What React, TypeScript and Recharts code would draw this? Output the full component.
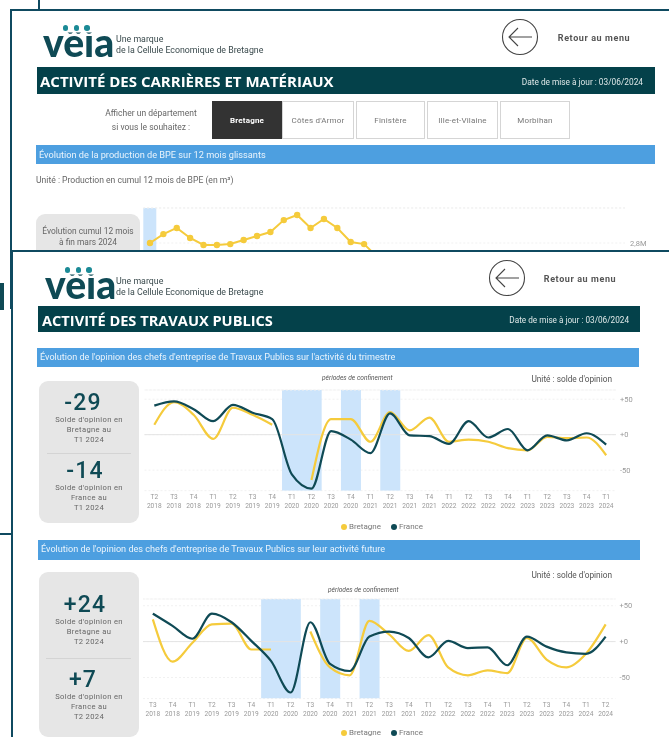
import React from 'react';
import { ComposedChart, Line, Bar, XAxis, YAxis, CartesianGrid, ReferenceLine, Legend } from 'recharts';

// ---- data -----------------------------------------------------------------
const activiteCategories = ['T2 2018','T3 2018','T4 2018','T1 2019','T2 2019','T3 2019','T4 2019','T1 2020','T2 2020','T3 2020','T4 2020','T1 2021','T2 2021','T3 2021','T4 2021','T1 2022','T2 2022','T3 2022','T4 2022','T1 2023','T2 2023','T3 2023','T4 2023','T1 2024'];
const activiteBretagne = [14,46,28,-6,38,28,14,null,-64,22,22,-10,32,6,24,-10,-7,-10,-19,-22,-3,-5,-4,-29];
const activiteFrance = [41,47,36,19,42,31,22,-56,-76,5,-7,-26,30,-1,-2,-13,19,-4,8,-22,-1,-8,2,-14];
const activiteConfinement = ['T1 2020','T2 2020','T4 2020','T2 2021'];

const futureCategories = ['T3 2018','T4 2018','T1 2019','T2 2019','T3 2019','T4 2019','T1 2020','T2 2020','T3 2020','T4 2020','T1 2021','T2 2021','T3 2021','T4 2021','T1 2022','T2 2022','T3 2022','T4 2022','T1 2023','T2 2023','T3 2023','T4 2023','T1 2024','T2 2024'];
const futureBretagne = [31,-28,-2,24,25,-11,-11,null,14,-36,-47,29,10,-13,9,-36,-47,-40,-44,5,-25,-36,-17,24];
const futureFrance = [39,22,4,39,27,1,-27,-71,27,-31,-41,7,14,5,-22,1,-9,-8,-33,7,-7,-15,-17,7];
const futureConfinement = ['T1 2020','T2 2020','T4 2020','T2 2021'];

const bpeMonths = ['avr. 21','mai 21','juin 21','juil. 21','août 21','sept. 21','oct. 21','nov. 21','déc. 21','janv. 22','févr. 22','mars 22','avr. 22','mai 22','juin 22','juil. 22','août 22','sept. 22','oct. 22','nov. 22','déc. 22','janv. 23','févr. 23','mars 23','avr. 23','mai 23','juin 23','juil. 23','août 23','sept. 23','oct. 23','nov. 23','déc. 23','janv. 24','févr. 24','mars 24'];
const bpeValues = [2.8,2.851,2.886,2.829,2.789,2.789,2.794,2.817,2.84,2.863,2.931,2.96,2.886,2.937,2.886,2.806,2.794,2.72];
const bpeConfinement = ['avr. 21'];

const departements = ['Bretagne', "Côtes d'Armor", 'Finistère', 'Ille-et-Vilaine', 'Morbihan'];

// ---- style ----------------------------------------------------------------
const TEAL = '#0f4a55';
const FRAME = '#0f4a60';
const DARK = '#04414a';
const YELLOW = '#f5cb3c';
const BLUE = '#4d9fe0';
const BAND = '#cce4fb';
const FONT = 'Roboto, sans-serif';

const T = ({ x, y, anchor = 'start', size = 8, color = '#666', weight = 400, italic = false, font = FONT, spacing = 0, children }: any) => (
  <div style={{
    position: 'absolute', left: x, top: y, whiteSpace: 'nowrap', fontFamily: font, fontSize: size, color, fontWeight: weight,
    fontStyle: italic ? 'italic' : 'normal', letterSpacing: spacing, lineHeight: 1,
    transform: `translate(${anchor === 'middle' ? '-50%' : anchor === 'end' ? '-100%' : '0'}, -50%)`,
  }}>{children}</div>
);

const Box = ({ x, y, w, h, bg, r = 0, border, z }: any) => (
  <div style={{ position: 'absolute', left: x, top: y, width: w, height: h, background: bg, borderRadius: r, border, boxSizing: 'border-box', zIndex: z }} />
);

const Logo = ({ x, y, sub }: any) => (
  <>
    <div style={{ position: 'absolute', left: x, top: y - 19.5, fontFamily: 'Lato, sans-serif', fontWeight: 900, fontSize: 39, lineHeight: 1, color: TEAL, clipPath: 'inset(10px 0 0 0)' }}>vëia</div>
    {[x + 22.5, x + 33.5, x + 44].map((cx) => (
      <div key={cx} style={{ position: 'absolute', left: cx - 2.75, top: y - 16.75, width: 5.5, height: 5.5, borderRadius: '50%', background: '#1b8a96' }} />
    ))}
    <T x={sub} y={y - 3} size={8.8} color="#3a4a4d">Une marque</T>
    <T x={sub} y={y + 8} size={8.8} color="#3a4a4d">de la Cellule Economique de Bretagne</T>
  </>
);

const BackArrow = ({ cx, cy }: any) => (
  <svg style={{ position: 'absolute', left: cx - 19, top: cy - 19 }} width={38} height={38}>
    <circle cx={19} cy={19} r={17.5} fill="none" stroke="#444" strokeWidth={1.1} />
    <path d="M 31 19 H 8 M 17 10 L 8 19 L 17 28" fill="none" stroke="#444" strokeWidth={1.1} />
  </svg>
);

const XTick = ({ x, y, payload }: any) => {
  const [a, b] = String(payload.value).split(' ');
  return (
    <text x={x} y={y} textAnchor="middle" fontSize={6.6} fontFamily={FONT} fill="#999">
      <tspan x={x} dy={0}>{a}</tspan>
      <tspan x={x} dy={9.5}>{b}</tspan>
    </text>
  );
};

const fmtOpinion = (v: number) => (v > 0 ? `+${v}` : v === 0 ? '+0' : `${v}`);

const OpinionChart = ({ categories, bretagne, france, confinement, lo, hi, left, top, plotLeft, plotRight, plotHeight, legendLeft, legendTop }: any) => {
  const data = categories.map((c: string, i: number) => ({
    name: c,
    Bretagne: bretagne[i],
    France: france[i],
    band: confinement.includes(c) ? [lo, hi] : null,
  }));
  const width = 520;
  const height = 160;
  return (
    <div style={{ position: 'absolute', left, top }}>
      <ComposedChart width={width} height={height} data={data} barCategoryGap={0}
        margin={{ top: 5, left: plotLeft - left, right: 0, bottom: height - 5 - plotHeight - 30 }}>
        <CartesianGrid vertical={false} stroke="#f1f1f1" strokeDasharray="2 2" />
        <XAxis dataKey="name" interval={0} axisLine={false} tickLine={false} tickSize={0} tickMargin={8} height={30} tick={<XTick />} />
        <YAxis orientation="right" domain={[lo, hi]} ticks={[-50, 0, 50]} tickFormatter={fmtOpinion} axisLine={false} tickLine={false}
          tickSize={0} tickMargin={4} width={width - (plotRight - left)} tick={{ fontSize: 7.5, fill: '#999', fontFamily: FONT }} allowDataOverflow />
        <ReferenceLine y={hi} stroke="#f1f1f1" strokeDasharray="2 2" />
        <Bar dataKey="band" fill={BAND} isAnimationActive={false} legendType="none" />
        <ReferenceLine y={0} stroke="#e4e4e4" />
        <Line dataKey="Bretagne" type="monotone" stroke={YELLOW} strokeWidth={2.2} dot={false} isAnimationActive={false} legendType="circle" />
        <Line dataKey="France" type="monotone" stroke={TEAL} strokeWidth={2.2} dot={false} isAnimationActive={false} legendType="circle" />
        <Legend verticalAlign="middle" layout="horizontal" align="center" iconSize={6}
          wrapperStyle={{ left: legendLeft - left, top: legendTop - top, width: 100, fontSize: 8, fontFamily: FONT, color: '#777' }}
          formatter={(v: string) => <span style={{ color: '#777', marginLeft: -2 }}>{v}</span>} />
      </ComposedChart>
    </div>
  );
};

const BpeChart = () => {
  const data = bpeMonths.map((m, i) => ({ name: m, value: bpeValues[i] ?? null, band: bpeConfinement.includes(m) ? [2.429, 3] : null }));
  return (
    <div style={{ position: 'absolute', left: 130, top: 203 }}>
      <ComposedChart width={520} height={105} data={data} barCategoryGap={0} margin={{ top: 5, left: 13.3, right: 0, bottom: 0 }}>
        <CartesianGrid vertical={false} stroke="#f1f1f1" strokeDasharray="2 2" />
        <XAxis dataKey="name" hide interval={0} />
        <YAxis orientation="right" domain={[2.429, 3]} ticks={[2.8]} tickFormatter={(v: number) => `${String(v).replace('.', ',')}M`} axisLine={false} tickLine={false}
          tickSize={0} tickMargin={5} width={25} tick={{ fontSize: 7.5, fill: '#999', fontFamily: FONT }} allowDataOverflow />
        <ReferenceLine y={3} stroke="#f1f1f1" strokeDasharray="2 2" />
        <Bar dataKey="band" fill={BAND} isAnimationActive={false} />
        <Line dataKey="value" type="linear" stroke={YELLOW} strokeWidth={2} dot={{ r: 2.2, fill: YELLOW, stroke: YELLOW }} isAnimationActive={false} />
      </ComposedChart>
    </div>
  );
};

const Kpi = ({ value, cy, lines, cx }: any) => (
  <>
    <T x={cx} y={cy} anchor="middle" size={23} color={TEAL} weight={500} spacing={1.2}>{value}</T>
    {lines.map((l: string, i: number) => (
      <T key={l} x={89} y={cy + 17.5 + i * 10.2} anchor="middle" size={7.6} spacing={0.35} color="#666">{l}</T>
    ))}
  </>
);

export default function App() {
  const widths = [[212, 70], [282, 72], [356, 69], [427, 71], [500, 70]];
  return (
    <div style={{ position: 'absolute', left: 0, top: 0, width: 669, height: 737, overflow: 'hidden', background: '#fff', filter: 'blur(0.35px)' }}>
      {/* fragments of the tiles behind */}
      <Box x={38} y={0} w={2} h={10} bg={FRAME} />
      <Box x={0} y={283} w={4} h={27} bg={TEAL} />
      <Box x={0} y={533} w={12} h={2} bg={FRAME} />

      {/* first tile */}
      <Box x={10} y={9} w={680} h={300} bg="#fff" border={`2.5px solid ${FRAME}`} />
      <Logo x={43} y={42} sub={116} />
      <BackArrow cx={519.5} cy={37} />
      <T x={594} y={38} anchor="middle" size={9} color="#555" weight={700} spacing={0.6}>Retour au menu</T>
      <Box x={37} y={67} w={618} h={27} bg={DARK} />
      <T x={40} y={81} size={15} color="#fff" weight={700} font="'Open Sans', sans-serif">ACTIVITÉ DES CARRIÈRES ET MATÉRIAUX</T>
      <T x={643} y={82} anchor="end" size={8.3} color="#dfe8e8">Date de mise à jour : 03/06/2024</T>
      <T x={151} y={113} anchor="middle" size={8.5}>Afficher un département</T>
      <T x={151} y={127} anchor="middle" size={8.5}>si vous le souhaitez :</T>
      {departements.map((d, i) => (
        <div key={d} style={{ position: 'absolute', left: widths[i][0], top: 101, width: widths[i][1], height: 38, boxSizing: 'border-box', border: i === 0 ? 'none' : '1px solid #d5d5d5', background: i === 0 ? '#333' : '#fff', color: i === 0 ? '#fff' : '#777', fontFamily: FONT, fontSize: 8, fontWeight: i === 0 ? 700 : 400, display: 'flex', alignItems: 'center', justifyContent: 'center', letterSpacing: 0.2 }}>{d}</div>
      ))}
      <Box x={36} y={145} w={619} h={19} bg={BLUE} />
      <T x={39} y={155} size={9.2} color="#eaf4fc">Évolution de la production de BPE sur 12 mois glissants</T>
      <T x={36} y={180} size={8.6} color="#666">Unité : Production en cumul 12 mois de BPE (en m³)</T>
      <Box x={36} y={214} w={104} h={60} bg="#e6e6e6" r={9} />
      <T x={88} y={231} anchor="middle" size={8.4}>Évolution cumul 12 mois</T>
      <T x={88} y={242} anchor="middle" size={8.4}>à fin mars 2024</T>
      <BpeChart />

      {/* second tile */}
      <div style={{ position: 'absolute', left: 0, top: 0, width: 669, height: 737, zIndex: 2 }}>
        <Box x={11} y={250} w={680} h={500} bg="#fff" border={`2.5px solid ${FRAME}`} />
        <Logo x={45} y={284} sub={116} />
        <BackArrow cx={507} cy={278} />
        <T x={580} y={279} anchor="middle" size={9} color="#555" weight={700} spacing={0.6}>Retour au menu</T>
        <Box x={38} y={306} w={602} h={26} bg={DARK} />
        <T x={42} y={319.5} size={14.6} color="#fff" weight={700} font="'Open Sans', sans-serif">ACTIVITÉ DES TRAVAUX PUBLICS</T>
        <T x={629} y={320} anchor="end" size={8.2} color="#dfe8e8">Date de mise à jour : 03/06/2024</T>

        <Box x={37} y={348} w={602} h={19} bg={BLUE} />
        <T x={40} y={357.5} size={9.1} color="#eaf4fc">Évolution de l'opinion des chefs d'entreprise de Travaux Publics sur l'activité du trimestre</T>
        <Box x={39} y={381} w={100} h={142} bg="#e6e6e6" r={9} />
        <Kpi value="-29" cx={83} cy={402} lines={["Solde d'opinion en", 'Bretagne au', 'T1 2024']} />
        <Box x={47} y={452.5} w={84} h={1.5} bg="#d4d4d4" />
        <Kpi value="-14" cx={85} cy={470} lines={["Solde d'opinion en", 'France au', 'T1 2024']} />
        <T x={322} y={378} size={6.6} italic color="#555">périodes de confinement</T>
        <T x={612} y={379} anchor="end" size={8.3} color="#555">Unité : solde d'opinion</T>
        <OpinionChart categories={activiteCategories} bretagne={activiteBretagne} france={activiteFrance} confinement={activiteConfinement}
          lo={-79} hi={63} left={130} top={385} plotLeft={144.5} plotRight={616} plotHeight={100.7} legendLeft={337} legendTop={522} />

        <Box x={38} y={540} w={602} h={20} bg={BLUE} />
        <T x={41} y={549.5} size={9.1} color="#eaf4fc">Évolution de l'opinion des chefs d'entreprise de Travaux Publics sur leur activité future</T>
        <Box x={39} y={572} w={100} h={165} bg="#e6e6e6" r={9} />
        <Kpi value="+24" cx={85} cy={604} lines={["Solde d'opinion en", 'Bretagne au', 'T2 2024']} />
        <Box x={46} y={657.5} w={85} h={1.5} bg="#d4d4d4" />
        <Kpi value="+7" cx={83} cy={679} lines={["Solde d'opinion en", 'France au', 'T2 2024']} />
        <T x={328} y={590} size={6.6} italic color="#555">périodes de confinement</T>
        <T x={612} y={575} anchor="end" size={8.3} color="#555">Unité : solde d'opinion</T>
        <OpinionChart categories={futureCategories} bretagne={futureBretagne} france={futureFrance} confinement={futureConfinement}
          lo={-79.5} hi={59.4} left={130} top={593.7} plotLeft={143} plotRight={615.5} plotHeight={99.6} legendLeft={337} legendTop={728} />
      </div>
    </div>
  );
}
